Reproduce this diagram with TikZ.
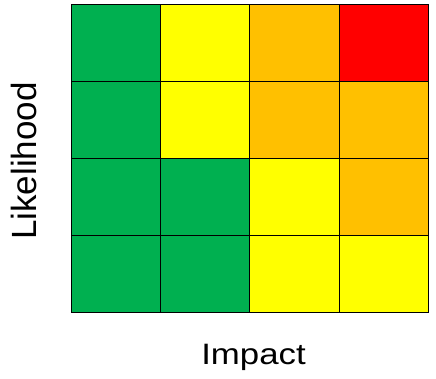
\documentclass[tikz,border=0pt]{standalone}
\usepackage{fontspec}
\setmainfont{Liberation Sans}
\usepackage{graphicx}
\usetikzlibrary{positioning}

\definecolor{riskgreen}{HTML}{00B050}
\definecolor{riskyellow}{HTML}{FFFF00}
\definecolor{riskorange}{HTML}{FFC000}
\definecolor{riskred}{HTML}{FF0000}

\begin{document}
\begin{tikzpicture}[x=1pt, y=-1pt,
  cell/.style={draw=black, line width=0.7pt, minimum width=89.25pt, minimum height=76.9pt, inner sep=0pt, outer sep=0pt},
  axislabel/.style={anchor=base, inner sep=0pt}]

\useasboundingbox (0,0) rectangle (436,379);

% Risk cells, top row first
\foreach \row/\colors in {1/{riskgreen,riskyellow,riskorange,riskred},
                          2/{riskgreen,riskyellow,riskorange,riskorange},
                          3/{riskgreen,riskgreen,riskyellow,riskorange},
                          4/{riskgreen,riskgreen,riskyellow,riskyellow}}
  \foreach \c [count=\col] in \colors
    \node[cell, fill=\c] (c\row\col) at ({71.3+(\col-0.5)*89.25}, {4.3+(\row-0.5)*76.9}) {};

% Axis labels
\node[axislabel, rotate=90, font=\fontsize{35}{42}\selectfont] (likelihood) at (36.5,161) {Likelihood};
\node[axislabel, font=\fontsize{29.5}{36}\selectfont] (impact) at (253.5,364.3) {\scalebox{1.18}[1]{Impact}};

\end{tikzpicture}
\end{document}
